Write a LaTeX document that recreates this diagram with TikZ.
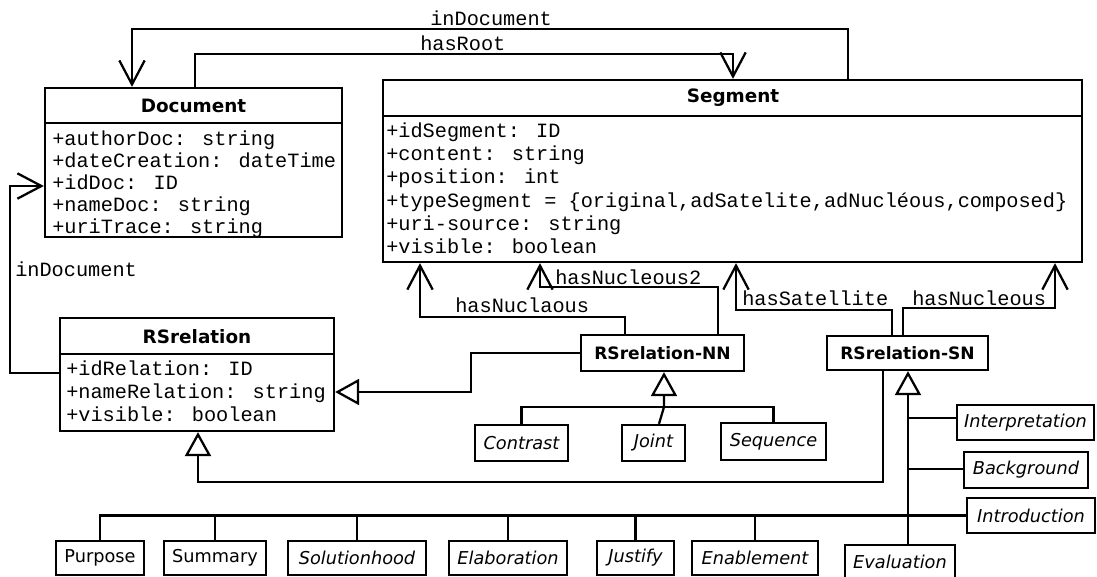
\documentclass[tikz,border=0pt]{standalone}
\usepackage{fontspec}
\setmainfont{DejaVu Sans}[ItalicFont={DejaVu Sans Oblique},BoldFont={DejaVu Sans Bold}]
\newfontfamily\monof{Liberation Mono}
\usetikzlibrary{arrows.meta,fit}
\tikzset{
  ln/.style={line width=1.7pt},
  cls/.style={draw,ln,inner sep=0pt},
  subbox/.style={draw,ln,inner sep=0pt,font=\fontsize{13.3}{15}\selectfont},
  isub/.style={subbox,font=\itshape\fontsize{13.3}{15}\selectfont},
  clsname/.style={font=\bfseries\fontsize{13.8}{16}\selectfont,inner sep=0pt},
  smallcls/.style={draw,ln,inner sep=0pt,font=\bfseries\fontsize{12.8}{14}\selectfont},
  attr/.style={anchor=base west,inner sep=0pt,font=\monof\fontsize{15.2}{18}\selectfont},
  assoc/.style={ln,line join=miter,-{Straight Barb[length=18pt,width=19pt]}},
  gen/.style={ln,line join=miter,-{Triangle[open,length=18pt,width=19.5pt]}},
  plain/.style={ln,line join=miter}
}
\begin{document}
\begin{tikzpicture}[x=0.75pt,y=-0.75pt]
\useasboundingbox (0,0) rectangle (1097,576);
\fill[white] (0,0) rectangle (1097,576);

% Document
\node[cls,fit={(45,88) (342,237)}] (doc) {};
\draw[ln] (doc.west |- 0,123) -- (doc.east |- 0,123);
\node[clsname] (docname) at (193.5,106) {Document};
\node[attr] (d1) at (52,145) {+authorDoc: string};
\node[attr] (d2) at (52,167) {+dateCreation: dateTime};
\node[attr] (d3) at (52,189) {+idDoc: ID};
\node[attr] (d4) at (52,211) {+nameDoc: string};
\node[attr] (d5) at (52,233) {+uriTrace: string};

% Segment
\node[cls,fit={(383,80) (1082,262)}] (seg) {};
\draw[ln] (seg.west |- 0,116) -- (seg.east |- 0,116);
\node[clsname] (segname) at (733,98) {Segment};
\node[attr] (s1) at (386,137) {+idSegment: ID};
\node[attr] (s2) at (386,160) {+content: string};
\node[attr] (s3) at (386,183) {+position: int};
\node[attr] (s4) at (386,207) {+typeSegment = \{original,adSatelite,adNucléous,composed\}};
\node[attr] (s5) at (386,230) {+uri-source: string};
\node[attr] (s6) at (386,253) {+visible: boolean};

% RSrelation
\node[cls,fit={(60,318) (334,431)}] (rsr) {};
\draw[ln] (rsr.west |- 0,354) -- (rsr.east |- 0,354);
\node[clsname] (rsrname) at (197,337) {RSrelation};
\node[attr] (r1) at (66,375) {+idRelation: ID};
\node[attr] (r2) at (66,398) {+nameRelation: string};
\node[attr] (r3) at (66,421) {+visible: boolean};

% RSrelation-NN and -SN
\node[smallcls,minimum width=122.25pt,minimum height=27pt] (nn) at (662.5,353) {RSrelation-NN};
\node[smallcls,minimum width=120.75pt,minimum height=25.5pt] (sn) at (907.5,353) {RSrelation-SN};

% NN subclasses
\node[isub,minimum width=69.75pt,minimum height=27pt] (contrast) at (521.5,443) {Contrast};
\node[isub,minimum width=47.25pt,minimum height=27pt] (joint) at (653.5,443) {Joint};
\node[isub,minimum width=78.75pt,minimum height=27.75pt] (sequence) at (773.5,441.5) {Sequence};

% SN subclasses
\node[isub,minimum width=102.75pt,minimum height=26.25pt] (interp) at (1025.5,422.5) {Interpretation};
\node[isub,minimum width=93pt,minimum height=27pt] (backg) at (1026,470) {Background};
\node[isub,minimum width=96pt,minimum height=26.25pt] (intro) at (1031,515.5) {Introduction};
\node[isub,minimum width=82.5pt,minimum height=24.75pt] (evalu) at (900,561.5) {Evaluation};

% bottom row
\node[subbox,minimum width=66pt,minimum height=25.5pt] (purpose) at (100,558) {Purpose};
\node[subbox,minimum width=76.5pt,minimum height=25.5pt] (summary) at (215,558) {Summary};
\node[isub,minimum width=103.5pt,minimum height=25.5pt] (solution) at (357,558) {Solutionhood};
\node[isub,minimum width=88.5pt,minimum height=25.5pt] (elab) at (508,558) {Elaboration};
\node[isub,minimum width=57.75pt,minimum height=25.5pt] (justify) at (635.5,558) {Justify};
\node[isub,minimum width=94.5pt,minimum height=25.5pt] (enable) at (755,558) {Enablement};

% associations
\draw[assoc] (848,0 |- seg.north) |- (132,29) -- (132,0 |- doc.north);
\node[attr] (lblindoc1) at (430,25) {inDocument};
\draw[assoc] (195,0 |- doc.north) |- (733,54) -- (733,0 |- seg.north);
\node[attr] (lblroot) at (420,50) {hasRoot};
\draw[assoc] (rsr.west |- 0,373) -| (10,186) -- (doc.west |- 0,186);
\node[attr] (lblindoc2) at (15,276) {inDocument};
\draw[assoc] (625,0 |- nn.north) |- (420,317) -- (420,0 |- seg.south);
\node[attr] (lblnuc) at (455,312) {hasNuclaous};
\draw[assoc] (718,0 |- nn.north) |- (540,287) -- (540,0 |- seg.south);
\node[attr] (lblnuc2) at (555,284) {hasNucleous2};
\draw[assoc] (892,0 |- sn.north) |- (736,310) -- (736,0 |- seg.south);
\node[attr] (lblsat) at (742,305) {hasSatellite};
\draw[assoc] (903,0 |- sn.north) |- (1055,308) -- (1055,0 |- seg.south);
\node[attr] (lblnucsn) at (912,305) {hasNucleous};

% generalizations
\draw[gen] (nn.west) -| (471,392) -- (rsr.east |- 0,392);
\draw[gen] (883,0 |- sn.south) |- (198,482) -- (198,0 |- rsr.south);
\draw[gen] (659,0 |- joint.north) -- (664,407) -- (664,0 |- nn.south);
\draw[plain] (contrast.north) |- (sequence.north |- 0,407) -- (sequence.north);
\draw[gen] (908,0 |- evalu.north) -- (908,0 |- sn.south);
\coordinate (b1) at (908,418);
\coordinate (b2) at (908,469);
\draw[plain] (b1) -- (interp.west |- b1);
\draw[plain] (b2) -- (backg.west |- b2);
\draw[plain] (purpose.north) |- (intro.west);
\draw[plain] (summary.north) -- (summary.north |- intro.west);
\draw[plain] (solution.north) -- (solution.north |- intro.west);
\draw[plain] (elab.north) -- (elab.north |- intro.west);
\draw[plain] (justify.north) -- (justify.north |- intro.west);
\draw[plain] (enable.north) -- (enable.north |- intro.west);
\end{tikzpicture}
\end{document}
